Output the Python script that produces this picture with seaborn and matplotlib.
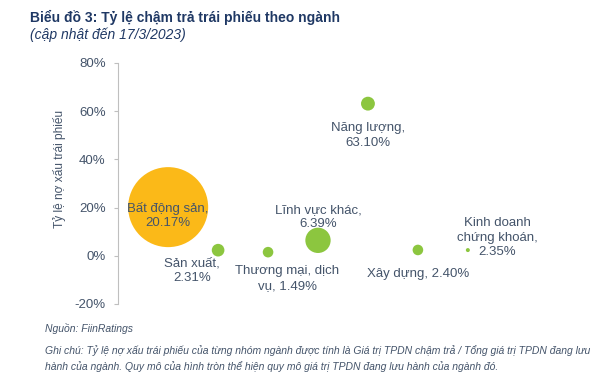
import matplotlib
matplotlib.use("Agg")
import matplotlib.pyplot as plt
import seaborn as sns
import pandas as pd
from matplotlib.ticker import FuncFormatter

# Data
nganh = ["Bất động sản", "Sản xuất", "Thương mại, dịch vụ", "Lĩnh vực khác",
         "Năng lượng", "Xây dựng", "Kinh doanh chứng khoán"]
ty_le = [20.17, 2.31, 1.49, 6.39, 63.10, 2.40, 2.35]          # % nợ xấu
quy_mo = [400, 10, 7, 40, 12, 7, 1]                            # relative outstanding value (bubble area)
nhom = ["bds", "khac", "khac", "khac", "khac", "khac", "khac"]
vi_tri = [1, 2, 3, 4, 5, 6, 7]
y_ticks = [-20, 0, 20, 40, 60, 80]
nhan = ["Bất động sản,\n20.17%", "Sản xuất,\n2.31%", "Thương mại, dịch\nvụ, 1.49%",
        "Lĩnh vực khác,\n6.39%", "Năng lượng,\n63.10%", "Xây dựng, 2.40%",
        "Kinh doanh\nchứng khoán,\n2.35%"]

df = pd.DataFrame({"x": vi_tri, "y": ty_le, "size": quy_mo, "nhom": nhom, "nganh": nganh})

sns.set_theme(style="white")
plt.rcParams['font.family'] = ['Liberation Sans', 'DejaVu Sans']

TXT = "#44546A"
fig = plt.figure(figsize=(6.0, 3.79), dpi=100)
ax = fig.add_axes([0.197, 0.198, 0.666, 0.636])

sns.scatterplot(data=df, x="x", y="y", size="size", sizes=(0, 3318), size_norm=(0, 400),
                hue="nhom", palette={"bds": "#FBB918", "khac": "#8CC63F"},
                edgecolor="none", legend=False, ax=ax, zorder=3)

ax.set_xlim(0, 8)
ax.set_ylim(-20, 80)
ax.set_yticks(y_ticks)
ax.yaxis.set_major_formatter(FuncFormatter(lambda v, p: f"{v:.0f}%"))
ax.set_xticks([])
ax.set_xlabel("")
ax.set_ylabel("Tỷ lệ nợ xấu trái phiếu", color=TXT, fontsize=8.6)
ax.yaxis.set_label_coords(-0.13, 0.56)
for s in ["top", "right", "bottom"]:
    ax.spines[s].set_visible(False)
ax.spines["left"].set_color("#BFBFBF")
ax.spines["left"].set_linewidth(0.8)
ax.tick_params(axis="y", which="major", left=True, length=3, width=0.8, color="#BFBFBF",
               labelsize=9.5, labelcolor=TXT, pad=6)

offsets = [(0, -6), (-19, -15), (14, -19), (0, 17), (0, -23), (0, -17), (21, 9)]
for i in range(len(nhan)):
    ax.annotate(nhan[i], (vi_tri[i], ty_le[i]), xytext=offsets[i], textcoords="offset points",
                ha="center", va="center", fontsize=9.5, color=TXT, zorder=4, linespacing=1.25)

fig.text(0.05, 0.955, "Biểu đồ 3: Tỷ lệ chậm trả trái phiếu theo ngành", fontsize=10,
         fontweight="bold", color="#1F3864", va="center")
fig.text(0.05, 0.907, "(cập nhật đến 17/3/2023)", fontsize=10, style="italic",
         color="#1F3864", va="center")
fig.text(0.075, 0.132, "Nguồn: FiinRatings", fontsize=7.5, style="italic", color=TXT, va="center")
fig.text(0.075, 0.076, "Ghi chú: Tỷ lệ nợ xấu trái phiếu của từng nhóm ngành được tính là Giá trị TPDN chậm trả / Tổng giá trị TPDN đang lưu",
         fontsize=7.5, style="italic", color=TXT, va="center")
fig.text(0.075, 0.034, "hành của ngành. Quy mô của hình tròn thể hiện quy mô giá trị TPDN đang lưu hành của ngành đó.",
         fontsize=7.5, style="italic", color=TXT, va="center")

fig.savefig("out.png", dpi=100)
